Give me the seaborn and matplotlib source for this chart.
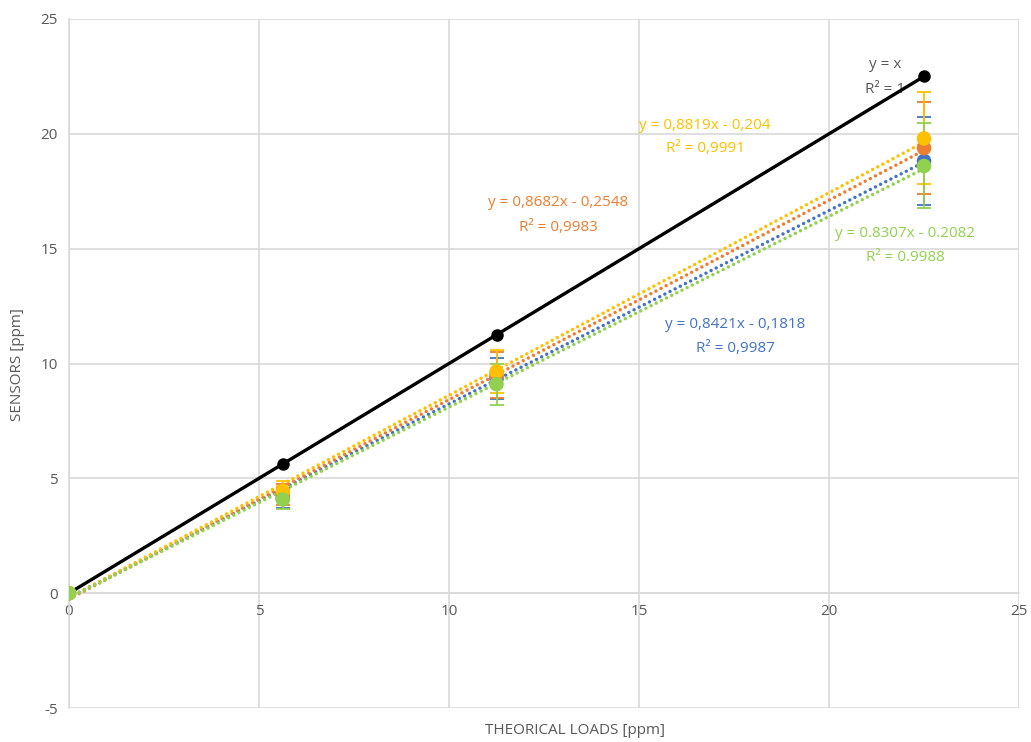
import numpy as np
import pandas as pd
import matplotlib
matplotlib.use("Agg")
import matplotlib.pyplot as plt
import seaborn as sns

# ---------------- data ----------------
loads = [0, 5.625, 11.25, 22.5]
reference = [0, 5.625, 11.25, 22.5]

series_names = ["blue", "orange", "yellow", "green"]
series_colors = {"blue": "#4472C4", "orange": "#ED7D31", "yellow": "#FFC000", "green": "#92D050"}
values = {
    "blue":   [0, 4.15, 9.35, 18.82],
    "orange": [0, 4.30, 9.50, 19.38],
    "yellow": [0, 4.45, 9.65, 19.80],
    "green":  [0, 4.08, 9.10, 18.60],
}
errors = {
    "blue":   [0, 0.45, 0.90, 1.90],
    "orange": [0, 0.45, 1.00, 2.00],
    "yellow": [0, 0.45, 0.95, 2.00],
    "green":  [0, 0.40, 0.90, 1.85],
}
slopes = {"blue": 0.8421, "orange": 0.8682, "yellow": 0.8819, "green": 0.8307}
intercepts = {"blue": -0.1818, "orange": -0.2548, "yellow": -0.204, "green": -0.2082}
eq_text = {
    "blue": ("y = 0,8421x - 0,1818", "R² = 0,9987"),
    "orange": ("y = 0,8682x - 0,2548", "R² = 0,9983"),
    "yellow": ("y = 0,8819x - 0,204", "R² = 0,9991"),
    "green": ("y = 0.8307x - 0.2082", "R² = 0.9988"),
}
eq_pos = {
    "blue": (17.53, 11.72, 10.67),
    "orange": (12.87, 16.99, 15.94),
    "yellow": (16.74, 20.38, 19.38),
    "green": (22.0, 15.68, 14.63),
}
ref_text = ("y = x", "R² = 1")
ref_pos = (21.47, 23.0, 21.95)

x_ticks = [0, 5, 10, 15, 20, 25]
y_ticks = [-5, 0, 5, 10, 15, 20, 25]

# ---------------- style ----------------
sns.set_theme(style="white")
plt.rcParams["font.family"] = ["Open Sans", "DejaVu Sans"]
plt.rcParams["axes.unicode_minus"] = False
TXT = "#595959"
GRID = "#D9D9D9"

fig = plt.figure(figsize=(10.31, 7.42), dpi=100)
ax = fig.add_axes([0.0669, 0.0458, 0.9215, 0.9286])

ax.set_xlim(0, 25)
ax.set_ylim(-5, 25)
ax.set_xticks(x_ticks)
ax.set_yticks(y_ticks)
ax.grid(True, color=GRID, linewidth=1.2, zorder=0)
ax.set_axisbelow(True)
for s in ["top", "right"]:
    ax.spines[s].set_visible(False)
ax.spines["bottom"].set_position(("data", 0))
ax.spines["bottom"].set_color(GRID)
ax.spines["bottom"].set_linewidth(1.2)
ax.spines["left"].set_color(GRID)
ax.spines["left"].set_linewidth(1.2)
ax.tick_params(axis="both", length=0, labelsize=11, labelcolor=TXT, pad=8)

# trend lines (dotted, round dots)
x_line = np.array([loads[0], loads[-1]])
trend_rows = []
for name in series_names:
    for xv in x_line:
        trend_rows.append({"x": xv, "y": slopes[name] * xv + intercepts[name], "s": name})
trend_df = pd.DataFrame(trend_rows)
for name in series_names:
    sub = trend_df[trend_df.s == name]
    n_before = len(ax.lines)
    sns.lineplot(data=sub, x="x", y="y", ax=ax, color=series_colors[name],
                 linewidth=2.5, zorder=3)
    for ln in ax.lines[n_before:]:
        ln.set_linestyle((0, (0.01, 1.65)))
        ln.set_dash_capstyle("round")

# reference black line
ref_df = pd.DataFrame({"x": loads, "y": reference})
sns.lineplot(data=ref_df, x="x", y="y", ax=ax, color="black", linewidth=2.4,
             marker="o", markersize=9, markeredgewidth=0, zorder=4)

# error bars and markers
for name in series_names:
    ax.errorbar(loads, values[name], yerr=errors[name], fmt="none",
                ecolor=series_colors[name], elinewidth=1.3, capsize=5,
                capthick=1.3, zorder=5)
for name in series_names:
    df = pd.DataFrame({"x": loads, "y": values[name]})
    sns.scatterplot(data=df, x="x", y="y", ax=ax, color=series_colors[name],
                    s=110, edgecolor="none", zorder=6)

# equation labels
for name in series_names:
    xx, y1, y2 = eq_pos[name]
    ax.text(xx, y1, eq_text[name][0], color=series_colors[name], fontsize=11,
            ha="center", va="center", zorder=7)
    ax.text(xx, y2, eq_text[name][1], color=series_colors[name], fontsize=11,
            ha="center", va="center", zorder=7)
ax.text(ref_pos[0], ref_pos[1], ref_text[0], color=TXT, fontsize=11,
        ha="center", va="center", zorder=7)
ax.text(ref_pos[0], ref_pos[2], ref_text[1], color=TXT, fontsize=11,
        ha="center", va="center", zorder=3)

ax.set_xlabel("")
ax.set_ylabel("")
fig.text(575 / 1031, 1 - 730 / 742, "THEORICAL LOADS [ppm]", color=TXT,
         fontsize=11, ha="center", va="center")
fig.text(18 / 1031, 1 - 365 / 742, "SENSORS [ppm]", color=TXT, fontsize=11,
         ha="center", va="center", rotation=90)

fig.savefig("out.png", dpi=100)
